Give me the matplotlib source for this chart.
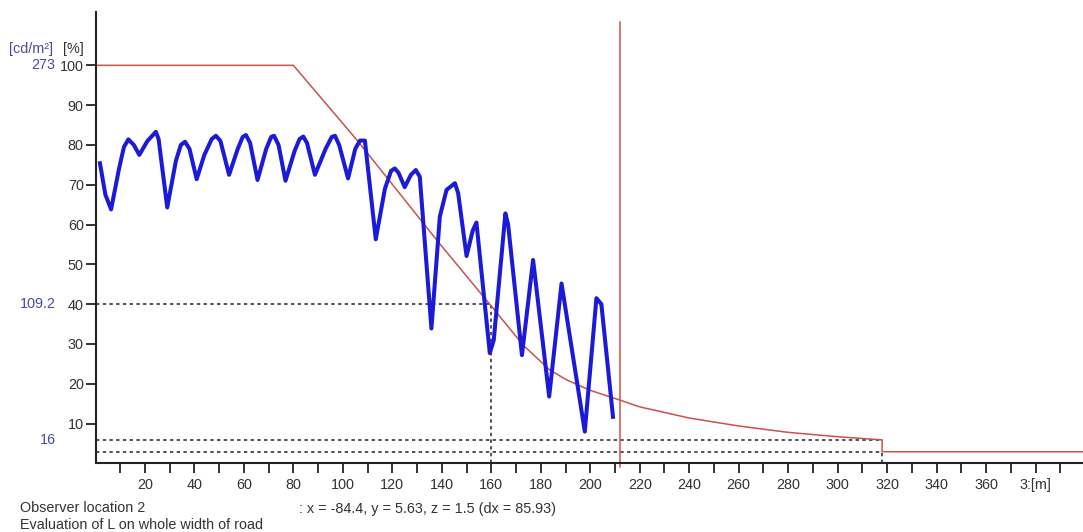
import numpy as np
import matplotlib.pyplot as plt

plt.rcParams['font.family'] = ['Liberation Sans', 'DejaVu Sans']

# luminance along the road, relative to the threshold zone level [%]
dist_m = [1.8, 4.0, 6.3, 9.5, 11.5, 13.3, 15.5, 17.7, 21.0, 24.4, 25.5, 29.0,
          32.5, 34.5, 36.2, 38.0, 40.9, 44.0, 47.0, 48.7, 50.5, 54.0, 57.5,
          59.5, 60.8, 62.5, 65.5, 69.0, 71.0, 72.2, 74.0, 76.8, 80.5, 82.5,
          84.0, 85.5, 88.7, 93.0, 95.5, 96.8, 98.5, 102.1, 105.0, 106.9,
          108.9, 113.3, 117.0, 119.5, 121.0, 122.5, 125.0, 127.5, 129.5,
          131.1, 135.8, 139.2, 141.9, 145.3, 146.6, 150.0, 152.5, 154.0,
          159.4, 161.0, 165.7, 166.8, 172.4, 176.9, 183.4, 188.4, 197.8,
          202.5, 204.5, 209.2]
lum_pct = [75.4, 67.5, 63.8, 74.0, 79.5, 81.4, 80.0, 77.5, 81.0, 83.3, 81.5,
           64.3, 76.0, 80.0, 80.8, 79.0, 71.4, 77.5, 81.5, 82.3, 81.0, 72.5,
           79.0, 82.0, 82.5, 80.5, 71.2, 79.0, 82.0, 82.3, 80.0, 71.0, 78.5,
           81.5, 82.1, 80.5, 72.5, 79.0, 82.0, 82.3, 80.0, 71.6, 79.0, 81.1,
           81.1, 56.3, 69.0, 73.5, 74.1, 73.0, 69.4, 72.5, 73.7, 72.0, 33.9,
           62.0, 68.7, 70.4, 67.9, 52.1, 58.5, 60.5, 27.7, 31.0, 62.8, 60.0,
           27.2, 51.1, 16.8, 45.2, 8.0, 41.5, 40.0, 11.7]

# required luminance curve [%]
req_m = [0, 80, 106, 139, 160.7, 172.9, 183.6, 190.4, 199.8, 212, 220, 240,
         260, 280, 300, 318, 318, 399]
req_pct = [100, 100, 81, 55.3, 39, 29.7, 23.5, 21.0, 18.4, 15.9, 14.2, 11.4,
           9.4, 7.8, 6.7, 5.9, 2.93, 2.93]

x_ticks = [20, 40, 60, 80, 100, 120, 140, 160, 180, 200, 220, 240, 260, 280,
           300, 320, 340, 360, 380]
x_labels = ['20', '40', '60', '80', '100', '120', '140', '160', '180', '200',
            '220', '240', '260', '280', '300', '320', '340', '360', '3:[m]']

L_th = 273.0          # threshold zone luminance [cd/m²]
mark_x = 160          # marked point on the curve
mark_pct = 40
mark_cd = 109.2
end_x = 318           # end of transition zone
end_pct = 5.86
end_cd = 16
interior_pct = 2.93
stop_x = 212          # stopping distance marker

BLUE = '#1a1ad8'
RED = '#c9524c'
LBLUE = '#4a4aa8'
GREY = '#333333'
DOT = (0, (2.2, 2.2))
FS = 10.4

fig = plt.figure(figsize=(10.83, 5.32), dpi=100)
ax = fig.add_axes([95.5 / 1083, 68.6 / 532, 987 / 1083, 451.4 / 532])
ax.set_xlim(0, 399)
ax.set_ylim(0, 113.4)

# reference lines
ax.plot([0, mark_x], [mark_pct, mark_pct], color='#222222', lw=1.1, ls=DOT)
ax.plot([mark_x, mark_x], [0, mark_pct], color='#222222', lw=1.1, ls=DOT)
ax.plot([0, end_x], [end_pct, end_pct], color='#222222', lw=1.1, ls=DOT)
ax.plot([0, end_x], [interior_pct, interior_pct], color='#222222', lw=1.1, ls=DOT)
ax.plot([end_x, end_x], [0, interior_pct], color='#222222', lw=1.1, ls=DOT)

ax.plot(req_m, req_pct, color=RED, lw=1.1)
ax.plot(dist_m, lum_pct, color=BLUE, lw=2.9, solid_joinstyle='round')
ax.plot([stop_x, stop_x], [-1.0, 110.9], color=RED, lw=1.1, clip_on=False)

for s in ['top', 'right']:
    ax.spines[s].set_visible(False)
for s in ['left', 'bottom']:
    ax.spines[s].set_linewidth(1.5)
    ax.spines[s].set_color('#222222')

ax.set_xticks(x_ticks, x_labels)
ax.set_xticks(np.arange(10, 391, 20), minor=True)
ax.set_yticks(np.arange(10, 101, 10))
ax.tick_params(axis='x', which='both', length=7, width=1.3, color='#222222',
               pad=3.5, labelsize=FS, labelcolor=GREY)
ax.tick_params(axis='y', length=7, width=1.3, color='#222222', pad=1.5,
               labelsize=FS, labelcolor=GREY)

# secondary luminance labels
tr = ax.get_yaxis_transform()
ax.text(-0.0405, 100, f'{L_th:g}', transform=tr, ha='right', va='center',
        fontsize=FS, color=LBLUE)
ax.text(-0.0405, mark_pct, f'{mark_cd}', transform=tr, ha='right',
        va='center', fontsize=FS, color=LBLUE)
ax.text(-0.0405, end_pct, f'{end_cd}', transform=tr, ha='right', va='center',
        fontsize=FS, color=LBLUE)
fig.text(9 / 1083, 1 - 49 / 532, '[cd/m²]', ha='left', va='center',
         fontsize=FS, color=LBLUE)
fig.text(63 / 1083, 1 - 49 / 532, '[%]', ha='left', va='center',
         fontsize=FS, color=GREY)

fig.text(20 / 1083, 1 - 508 / 532, 'Observer location 2', ha='left',
         va='center', fontsize=FS, color=GREY)
fig.text(20 / 1083, 1 - 525 / 532, 'Evaluation of L on whole width of road',
         ha='left', va='center', fontsize=FS, color=GREY)
fig.text(299 / 1083, 1 - 509 / 532,
         ': x = -84.4, y = 5.63, z = 1.5 (dx = 85.93)', ha='left',
         va='center', fontsize=FS, color=GREY)

fig.savefig('out.png', dpi=100)
